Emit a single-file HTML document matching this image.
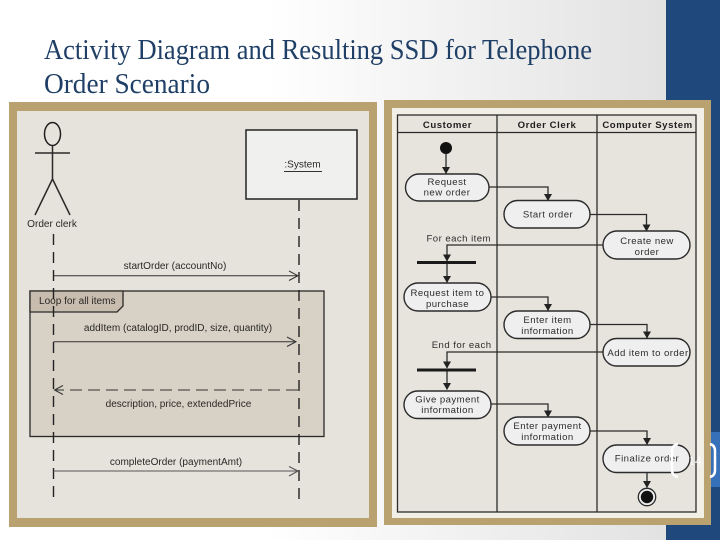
<!DOCTYPE html>
<html><head><meta charset="utf-8"><style>
html,body{margin:0;padding:0;background:#fff;width:720px;height:540px;overflow:hidden}
svg{display:block}
.soft{filter:blur(.35px)}
.a{font-family:"Liberation Sans",sans-serif;font-size:10.05px;fill:#2a2826}
.b{font-family:"Liberation Sans",sans-serif;font-size:9.6px;fill:#2d2d2d;letter-spacing:.45px;text-anchor:middle}
.h{font-family:"Liberation Sans",sans-serif;font-size:9.6px;font-weight:bold;fill:#1e1e1e;letter-spacing:.55px;text-anchor:middle}
.m{text-anchor:middle}
.n{fill:#f0eff0;stroke:#2b2b2b;stroke-width:1.4}
.c{fill:none;stroke:#2b2b2b;stroke-width:1.3}
.l{fill:none;stroke:#2b2a28;stroke-width:1.5}
.t{font-family:"Liberation Serif",serif;font-size:29px;fill:#1f3f66}
</style></head><body>
<svg width="720" height="540" viewBox="0 0 720 540" xmlns="http://www.w3.org/2000/svg">
<defs>
<linearGradient id="g" x1="0" y1="0" x2="1" y2="0">
<stop offset="0.4" stop-color="#ffffff"/><stop offset="1" stop-color="#e2e2e2"/>
</linearGradient>
<marker id="ah" markerWidth="7" markerHeight="8" refX="6.500" refY="4" orient="auto" markerUnits="userSpaceOnUse"><path d="M0,0 L7,4 L0,8 Z" fill="#222"/></marker>
</defs>
<rect x="0" y="0" width="666" height="540" fill="url(#g)"/>
<rect x="666" y="0" width="54" height="540" fill="#1f497d"/>
<rect x="666" y="432" width="54" height="55" fill="#3570b8"/>

<text class="t" x="44" y="59" textLength="548" lengthAdjust="spacingAndGlyphs">Activity Diagram and Resulting SSD for Telephone</text>
<text class="t" x="44" y="93" textLength="166" lengthAdjust="spacingAndGlyphs">Order Scenario</text>

<g class="soft">
<!-- left panel -->
<rect x="9" y="102" width="368" height="425" fill="#b9a270"/>
<rect x="17" y="111" width="352" height="407" fill="#e6e3dc"/>
<!-- loop -->
<rect x="30" y="291" width="294" height="145.500" fill="#d7d1c6" stroke="#2b2a28" stroke-width="1.300"/>
<path d="M30,291 H123 V306 L117,312 H30 Z" fill="#c8bcae" stroke="#2b2a28" stroke-width="1.300"/>
<text class="a" x="39" y="304">Loop for all items</text>
<!-- actor -->
<ellipse cx="52.500" cy="134" rx="8" ry="11.500" fill="none" stroke="#1f1f1f" stroke-width="1.500"/>
<path class="l" d="M52.500,145.500 V179 M35,153 H70 M52.500,179 L35,215 M52.500,179 L70,215"/>
<text class="a m" x="52" y="227">Order clerk</text>
<!-- system -->
<rect x="246" y="130" width="111" height="69" fill="#f0f0ee" stroke="#222" stroke-width="1.500"/>
<text class="a m" x="302.500" y="167.500">:System</text>
<path d="M284,171.500 H322" stroke="#333" stroke-width="1"/>
<!-- lifelines -->
<path d="M53.500,234 V503" fill="none" stroke="#222" stroke-width="1.400" stroke-dasharray="11,7"/>
<path d="M299,200 V503" fill="none" stroke="#222" stroke-width="1.400" stroke-dasharray="11,7"/>
<!-- messages -->
<text class="a m" x="175" y="269">startOrder (accountNo)</text>
<path d="M53.500,275.700 H298 M289,271 L298,275.700 L289,280.500" fill="none" stroke="#333" stroke-width="1"/>
<text class="a m" x="178" y="331">addItem (catalogID, prodID, size, quantity)</text>
<path d="M53.500,341.700 H296 M287,337 L296,341.700 L287,346.500" fill="none" stroke="#333" stroke-width="1"/>
<path d="M298,390 H56" fill="none" stroke="#333" stroke-width="1" stroke-dasharray="12,6"/>
<path d="M63,385.500 L54.500,390 L63,394.500" fill="none" stroke="#333" stroke-width="1"/>
<text class="a m" x="178.500" y="407">description, price, extendedPrice</text>
<text class="a m" x="176" y="465">completeOrder (paymentAmt)</text>
<path d="M53.500,471 H298 M289,466.500 L298,471 L289,476" fill="none" stroke="#555" stroke-width="1.100"/>

<!-- right panel -->
<rect x="384" y="100" width="327" height="425" fill="#b9a270"/>
<rect x="392" y="108" width="312" height="410" fill="#f1efe6"/>
<rect x="397.500" y="115" width="298.500" height="397" fill="#e7e4dd" stroke="#2b2b2b" stroke-width="1.300"/>
<path d="M397.500,132.500 H696 M497,115 V512 M597,115 V512" fill="none" stroke="#2b2b2b" stroke-width="1.300"/>
<text class="h" x="447.500" y="128">Customer</text>
<text class="h" x="547" y="128">Order Clerk</text>
<text class="h" x="647.500" y="128">Computer System</text>

<!-- connectors -->
<circle cx="446" cy="148" r="6" fill="#111"/>
<path class="c" marker-end="url(#ah)" d="M446,154 V173.500"/>
<path class="c" marker-end="url(#ah)" d="M489,187 H548 V200.500"/>
<path class="c" marker-end="url(#ah)" d="M590,214.500 H646.500 V231"/>
<path class="c" marker-end="url(#ah)" d="M603,245 H447 V261"/>
<path class="c" marker-end="url(#ah)" d="M447,263 V282.500"/>
<path class="c" marker-end="url(#ah)" d="M491,297 H548 V310.500"/>
<path class="c" marker-end="url(#ah)" d="M590,324.500 H647 V338"/>
<path class="c" marker-end="url(#ah)" d="M603,352 H447 V368"/>
<path class="c" marker-end="url(#ah)" d="M447,370 V389.500"/>
<path class="c" marker-end="url(#ah)" d="M491,404 H548 V417"/>
<path class="c" marker-end="url(#ah)" d="M590,431 H647 V444.500"/>
<path class="c" marker-end="url(#ah)" d="M647,472.500 V487.500"/>
<rect x="417" y="261" width="59" height="3" fill="#1a1a1a"/>
<rect x="417" y="368.500" width="59" height="3" fill="#1a1a1a"/>

<!-- nodes -->
<rect class="n" x="405.500" y="174" width="83.500" height="27" rx="13.500"/>
<text class="b" x="447" y="185">Request</text><text class="b" x="447" y="195.500">new order</text>
<rect class="n" x="504" y="200.500" width="86" height="27.500" rx="13.700"/>
<text class="b" x="548" y="217.700">Start order</text>
<rect class="n" x="603" y="231" width="87" height="28" rx="14"/>
<text class="b" x="647" y="244">Create new</text><text class="b" x="647" y="255">order</text>
<text class="b" x="491" y="241.700" style="text-anchor:end">For each item</text>
<rect class="n" x="404" y="283" width="87" height="28" rx="14"/>
<text class="b" x="447.500" y="296">Request item to</text><text class="b" x="447.500" y="307">purchase</text>
<rect class="n" x="504" y="311" width="86" height="27.500" rx="13.700"/>
<text class="b" x="547.500" y="323">Enter item</text><text class="b" x="547.500" y="334">information</text>
<rect class="n" x="603" y="338.500" width="87" height="27.500" rx="13.700"/>
<text class="b" x="648" y="356">Add item to order</text>
<text class="b" x="491.500" y="348" style="text-anchor:end">End for each</text>
<rect class="n" x="404" y="391" width="87" height="27.500" rx="13.700"/>
<text class="b" x="447.500" y="402.700">Give payment</text><text class="b" x="447.500" y="413">information</text>
<rect class="n" x="504" y="417" width="86" height="28" rx="14"/>
<text class="b" x="547.500" y="429">Enter payment</text><text class="b" x="547.500" y="440">information</text>
<rect class="n" x="603" y="445" width="87" height="27.500" rx="13.700"/>
<text class="b" x="647" y="461.700">Finalize order</text>
<circle cx="647" cy="497" r="8.700" fill="#f0eff0" stroke="#2b2b2b" stroke-width="1.300"/>
<circle cx="647" cy="497" r="6.200" fill="#111"/>
</g>

<!-- page number -->
<text x="695" y="465" text-anchor="middle" style="font-family:'Liberation Serif',serif;font-size:13px;fill:#fff;opacity:.85">14</text>
<path d="M678,444 C673,445 672,448 672,451 V470 C672,473 673,476 678,477" fill="none" stroke="#fff" stroke-width="2.500"/>
<path d="M710,444 C714,445 715,448 715,451 V470 C715,473 714,476 710,477" fill="none" stroke="#fff" stroke-width="2.500"/>
</svg>
</body></html>
